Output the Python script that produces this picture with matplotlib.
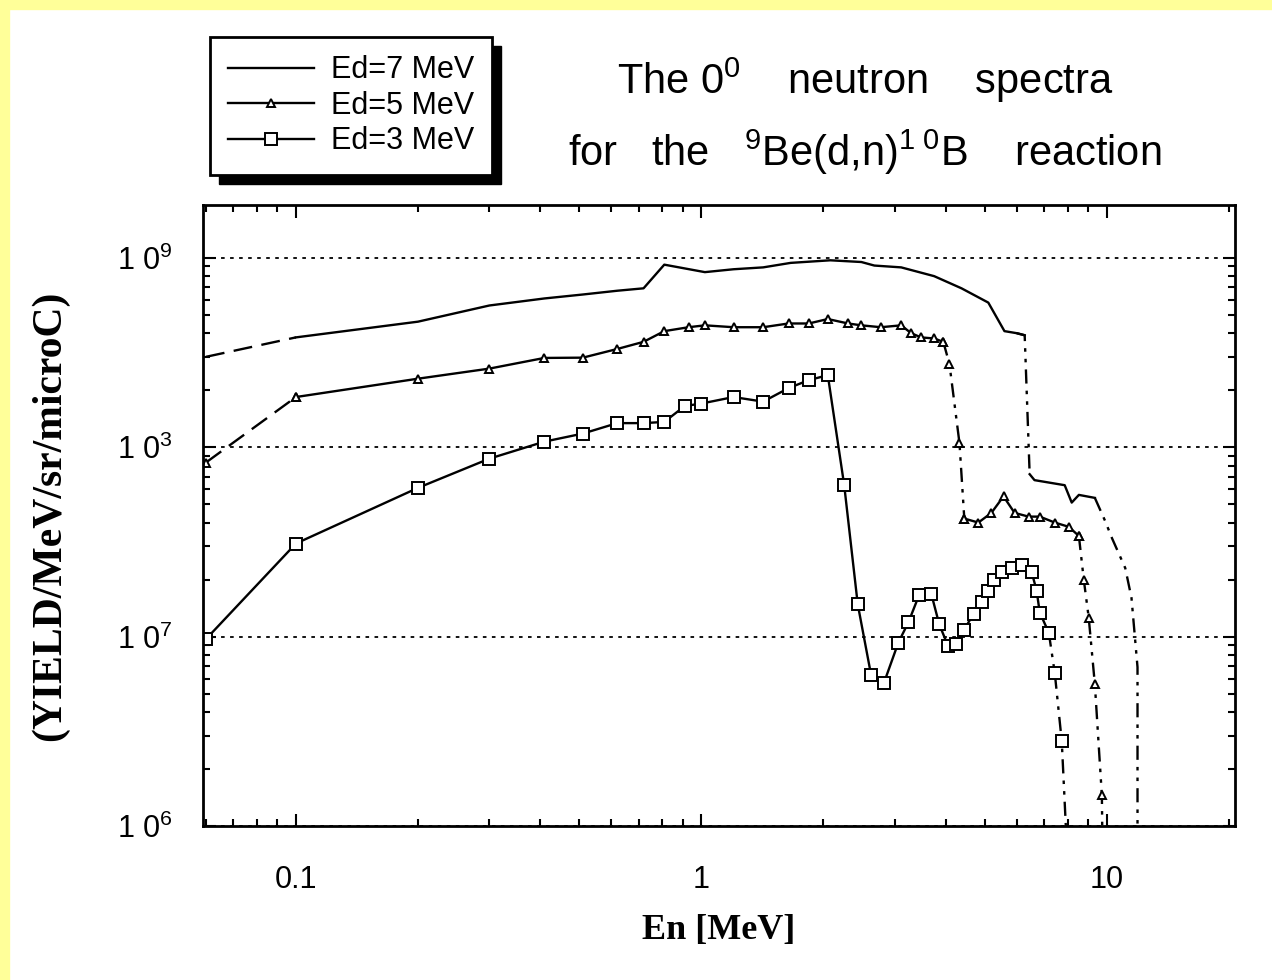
import numpy as np
import matplotlib
matplotlib.use('Agg')
import matplotlib.pyplot as plt
from matplotlib.patches import Rectangle
from matplotlib.ticker import LogLocator, NullFormatter

plt.rcParams['font.family'] = ['Liberation Sans', 'DejaVu Sans']
plt.rcParams['mathtext.fontset'] = 'custom'
plt.rcParams['mathtext.rm'] = 'Liberation Sans'
plt.rcParams['mathtext.it'] = 'Liberation Sans:italic'
plt.rcParams['mathtext.bf'] = 'Liberation Sans:bold'

# ---- data ----
en_7 = [0.06, 0.1, 0.2, 0.3, 0.41, 0.51, 0.62, 0.72, 0.81, 1.02, 1.2, 1.42,
        1.66, 2.08, 2.48, 2.67, 3.11, 3.75, 4.38, 5.1, 5.59, 5.99, 6.27,
        6.45, 6.63, 7.87, 8.19, 8.53, 9.34, 9.89, 10.3, 11.1, 11.5, 11.9, 11.9]
yield_7 = [3.0e8, 3.8e8, 4.6e8, 5.6e8, 6.1e8, 6.4e8, 6.7e8, 6.9e8, 9.2e8,
           8.4e8, 8.7e8, 8.9e8, 9.4e8, 9.7e8, 9.5e8, 9.1e8, 8.9e8, 8.0e8,
           6.9e8, 5.8e8, 4.1e8, 4.0e8, 3.9e8, 7.2e7, 6.7e7, 6.3e7, 5.1e7,
           5.6e7, 5.4e7, 4.1e7, 3.3e7, 2.3e7, 1.6e7, 6.9e6, 8.0e5]

en_5 = [0.06, 0.1, 0.2, 0.3, 0.41, 0.51, 0.62, 0.72, 0.81, 0.93, 1.02, 1.2,
        1.42, 1.64, 1.84, 2.05, 2.3, 2.48, 2.77, 3.11, 3.29, 3.48, 3.75, 3.95,
        4.09, 4.33, 4.45, 4.82, 5.19, 5.56, 5.92, 6.41, 6.83, 7.44, 8.05, 8.53,
        8.77, 9.02, 9.34, 9.72, 9.75]
yield_5 = [8.3e7, 1.84e8, 2.3e8, 2.6e8, 2.96e8, 2.97e8, 3.3e8, 3.6e8, 4.1e8,
           4.3e8, 4.4e8, 4.3e8, 4.3e8, 4.5e8, 4.5e8, 4.75e8, 4.5e8, 4.4e8,
           4.3e8, 4.4e8, 4.0e8, 3.8e8, 3.75e8, 3.6e8, 2.75e8, 1.05e8, 4.2e7,
           4.0e7, 4.5e7, 5.5e7, 4.5e7, 4.3e7, 4.3e7, 4.0e7, 3.8e7, 3.4e7,
           2.0e7, 1.26e7, 5.6e6, 1.45e6, 8.0e5]

en_3 = [0.06, 0.1, 0.2, 0.3, 0.41, 0.51, 0.62, 0.72, 0.81, 0.91, 1.0, 1.2,
        1.42, 1.64, 1.84, 2.05, 2.25, 2.43, 2.62, 2.82, 3.06, 3.24, 3.44, 3.69,
        3.86, 4.06, 4.25, 4.45, 4.69, 4.91, 5.1, 5.28, 5.5, 5.82, 6.16, 6.52,
        6.71, 6.83, 7.19, 7.44, 7.74, 7.96]
yield_3 = [9.7e6, 3.1e7, 6.1e7, 8.7e7, 1.07e8, 1.18e8, 1.34e8, 1.34e8, 1.36e8,
           1.65e8, 1.7e8, 1.84e8, 1.74e8, 2.05e8, 2.26e8, 2.4e8, 6.3e7, 1.48e7,
           6.3e6, 5.7e6, 9.3e6, 1.19e7, 1.65e7, 1.68e7, 1.16e7, 8.9e6, 9.1e6,
           1.09e7, 1.32e7, 1.53e7, 1.74e7, 2.0e7, 2.2e7, 2.3e7, 2.4e7, 2.2e7,
           1.75e7, 1.34e7, 1.05e7, 6.4e6, 2.8e6, 8.0e5]

labels = ['Ed=7 MeV', 'Ed=5 MeV', 'Ed=3 MeV']

# line styles along each curve: (first index, last index, style)
dash = (0, (8, 4))
dashdot = (0, (6, 3, 1.5, 3, 1.5, 3))
seg_7 = [(0, 1, dash), (1, 22, '-'), (21, 23, dashdot),
         (23, 28, '-'), (28, 34, dashdot)]
seg_5 = [(0, 1, dash), (1, 23, '-'), (23, 26, dashdot), (26, 35, '-'),
         (35, 40, dashdot)]
seg_3 = [(0, 38, '-'), (38, 41, dashdot)]

fig = plt.figure(figsize=(12.72, 9.8), dpi=100)
fig.patches.append(Rectangle((0, 1 - 9 / 980), 1, 9 / 980, transform=fig.transFigure,
                             color='#ffff99', zorder=0))
fig.patches.append(Rectangle((0, 0), 9 / 1272, 1, transform=fig.transFigure,
                             color='#ffff99', zorder=0))

ax = fig.add_axes([203 / 1272, 154 / 980, 1032 / 1272, 621 / 980])


def draw(x, y, segs, label, **kw):
    handle = None
    for i0, i1, ls in segs:
        h, = ax.plot(x[i0:i1 + 1], y[i0:i1 + 1], color='black', lw=1.7,
                     linestyle=ls, **kw)
        if ls == '-' and handle is None:
            handle = h
            h.set_label(label)
    return handle


h7 = draw(en_7, yield_7, seg_7, labels[0])
h5 = draw(en_5, yield_5, seg_5, labels[1], marker='^', ms=6, mfc='white',
          mec='black', mew=1.4)
h3 = draw(en_3, yield_3, seg_3, labels[2], marker='s', ms=8, mfc='white',
          mec='black', mew=1.4)

ax.set_xscale('log')
ax.set_yscale('log')
ax.set_xlim(0.059, 20.7)
ax.set_ylim(1e6, 1.9e9)

ax.set_xticks([0.1, 1, 10], ['0.1', '1', '10'])
ax.xaxis.set_minor_locator(LogLocator(base=10, subs=np.arange(2, 10)))
ax.xaxis.set_minor_formatter(NullFormatter())
ax.set_yticks([1e6, 1e7, 1e8, 1e9],
              [r'$\mathregular{1\ 0^{6}}$', r'$\mathregular{1\ 0^{7}}$',
               r'$\mathregular{1\ 0^{3}}$', r'$\mathregular{1\ 0^{9}}$'])
ax.yaxis.set_minor_locator(LogLocator(base=10, subs=np.arange(2, 10)))
ax.yaxis.set_minor_formatter(NullFormatter())

ax.tick_params(which='both', direction='in', top=True, right=True, width=1.5)
ax.tick_params(which='major', length=9)
ax.tick_params(which='minor', length=5)
ax.tick_params(axis='x', which='major', labelsize=22, pad=28)
ax.tick_params(axis='y', which='major', labelsize=22, pad=22)
for s in ax.spines.values():
    s.set_linewidth(2)

ax.yaxis.grid(True, which='major', color='black', linestyle=(0, (2, 3)), lw=1.3)

ax.set_xlabel('En [MeV]', family='Liberation Serif', fontweight='bold',
              fontsize=26, labelpad=14)
ax.set_ylabel('(YIELD/MeV/sr/microC)', family='Liberation Serif',
              fontweight='bold', fontsize=30, labelpad=34)

fig.text(865 / 1272, 1 - 80 / 980, r'The $0^0$    neutron    spectra',
         ha='center', va='center', fontsize=30)
fig.text(865 / 1272, 1 - 152 / 980,
         r'for   the   ${}^9$Be(d,n)${}^{1\ 0}$B    reaction',
         ha='center', va='center', fontsize=30)

leg = fig.legend(handles=[h7, h5, h3], loc='upper left',
                 bbox_to_anchor=(210 / 1272, 1 - 37 / 980), borderaxespad=0,
                 fontsize=22, handlelength=2.8, handletextpad=0.55,
                 fancybox=False, edgecolor='black', framealpha=1,
                 borderpad=0.6, labelspacing=0.18)
leg.get_frame().set_linewidth(2)
leg.set_zorder(6)

fig.canvas.draw()
bb = leg.get_window_extent()
W, H = fig.get_size_inches() * fig.dpi
off = 9
fig.patches.append(Rectangle(((bb.x0 + off) / W, (bb.y0 - off) / H),
                             bb.width / W, bb.height / H,
                             transform=fig.transFigure, color='black', zorder=5))

fig.savefig('out.png', dpi=100)
